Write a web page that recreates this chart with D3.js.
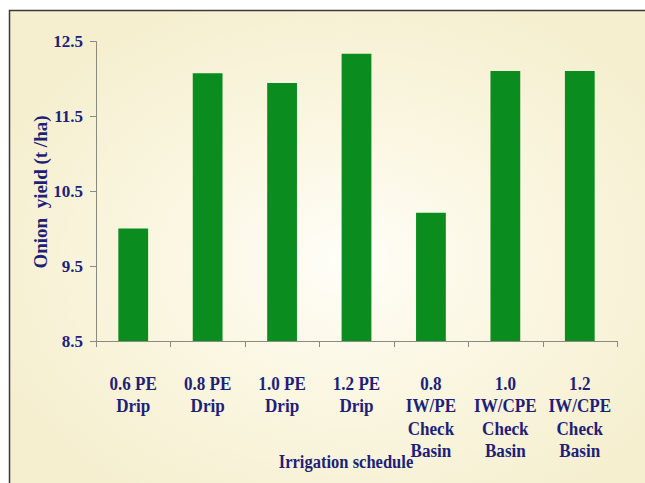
<!DOCTYPE html>
<html>
<head>
<meta charset="utf-8">
<script src="https://cdn.jsdelivr.net/npm/d3@7"></script>
<style>
  body { margin: 0; background: #ffffff; }
  svg { display: block; }
  svg text { font-family: "Liberation Serif", "DejaVu Serif", serif !important; font-weight: bold; }
</style>
</head>
<body>
<div id="chart"></div>
<script>
// Data
var categories = ['0.6 PE Drip', '0.8 PE Drip', '1.0 PE Drip', '1.2 PE Drip',
    '0.8 IW/PE Check Basin', '1.0 IW/CPE Check Basin', '1.2 IW/CPE Check Basin'];
var labelLines = [
    ['0.6 PE', 'Drip'], ['0.8 PE', 'Drip'], ['1.0 PE', 'Drip'], ['1.2 PE', 'Drip'],
    ['0.8', 'IW/PE', 'Check', 'Basin'], ['1.0', 'IW/CPE', 'Check', 'Basin'], ['1.2', 'IW/CPE', 'Check', 'Basin']
];
var yields = [10.0, 12.07, 11.94, 12.33, 10.21, 12.1, 12.1];
var yTicks = [8.5, 9.5, 10.5, 11.5, 12.5];

var width = 645, height = 483;
var margin = { left: 96, right: 28, top: 41, bottom: 142 };
var ink = '#1f1f78';

var svg = d3.select('#chart').append('svg')
    .attr('width', width).attr('height', height);

// Background glow
var defs = svg.append('defs');
var grad = defs.append('radialGradient').attr('id', 'bg')
    .attr('cx', '52%').attr('cy', '52%').attr('r', '60%');
grad.append('stop').attr('offset', '0%').attr('stop-color', '#fffef8');
grad.append('stop').attr('offset', '50%').attr('stop-color', '#faf6e0');
grad.append('stop').attr('offset', '100%').attr('stop-color', '#f5efcf');

svg.append('rect')
    .attr('x', 9.5).attr('y', 10.5)
    .attr('width', width).attr('height', height)
    .attr('fill', 'url(#bg)')
    .attr('stroke', '#3a3a3a').attr('stroke-width', 1.5);

var x = d3.scaleBand()
    .domain(categories)
    .range([margin.left, width - margin.right])
    .paddingInner(0.6).paddingOuter(0.3);

var y = d3.scaleLinear()
    .domain([8.5, 12.5])
    .range([height - margin.bottom, margin.top]);

// Bars
svg.selectAll('rect.bar')
    .data(yields)
    .enter().append('rect')
    .attr('class', 'bar')
    .attr('x', function(d, i) { return x(categories[i]); })
    .attr('y', function(d) { return y(d); })
    .attr('width', x.bandwidth())
    .attr('height', function(d) { return y(8.5) - y(d); })
    .attr('fill', '#0a8c1e');

// Y axis
var yAxis = svg.append('g')
    .attr('transform', 'translate(' + margin.left + ',0)')
    .call(d3.axisLeft(y).tickValues(yTicks).tickSize(6).tickPadding(7)
        .tickFormat(d3.format('.1f')));
yAxis.attr('font-size', 17);
yAxis.select('.domain').attr('stroke', '#8a8a80');
yAxis.selectAll('.tick line').attr('stroke', '#8a8a80');
yAxis.selectAll('.tick text').attr('fill', ink);

// X axis line with ticks at band boundaries
var gap = (x.step() - x.bandwidth()) / 2;
var bounds = categories.map(function(c) { return x(c) - gap; });
bounds.push(x.range()[1]);
var xAxis = svg.append('g');
xAxis.append('line')
    .attr('x1', x.range()[0]).attr('x2', x.range()[1])
    .attr('y1', y(8.5) + 0.5).attr('y2', y(8.5) + 0.5)
    .attr('stroke', '#8a8a80');
xAxis.selectAll('line.tk')
    .data(bounds)
    .enter().append('line')
    .attr('class', 'tk')
    .attr('x1', function(d) { return Math.round(d) + 0.5; })
    .attr('x2', function(d) { return Math.round(d) + 0.5; })
    .attr('y1', y(8.5)).attr('y2', y(8.5) + 6)
    .attr('stroke', '#8a8a80');

// Category labels (the original type is slightly condensed)
var lineH = 22.3;
var cat = svg.selectAll('text.cat')
    .data(labelLines)
    .enter().append('text')
    .attr('class', 'cat')
    .attr('font-size', 19)
    .attr('fill', ink)
    .attr('text-anchor', 'middle')
    .attr('transform', function(d, i) {
        return 'translate(' + (x(categories[i]) + x.bandwidth() / 2) + ',' + (y(8.5) + 49) + ') scale(0.9,1)';
    });
cat.selectAll('tspan')
    .data(function(d) { return d; })
    .enter().append('tspan')
    .attr('x', 0)
    .attr('y', function(d, j) { return j * lineH; })
    .text(function(d) { return d; });

// Axis titles
svg.append('text')
    .attr('font-size', 19)
    .attr('fill', ink)
    .attr('text-anchor', 'middle')
    .attr('transform', 'translate(346,468) scale(0.87,1)')
    .text('Irrigation schedule');

svg.append('text')
    .attr('font-size', 19)
    .attr('fill', ink)
    .attr('text-anchor', 'middle')
    .style('white-space', 'pre')
    .attr('transform', 'translate(47,192) rotate(-90)')
    .text('Onion  yield (t /ha)');
</script>
</body>
</html>
